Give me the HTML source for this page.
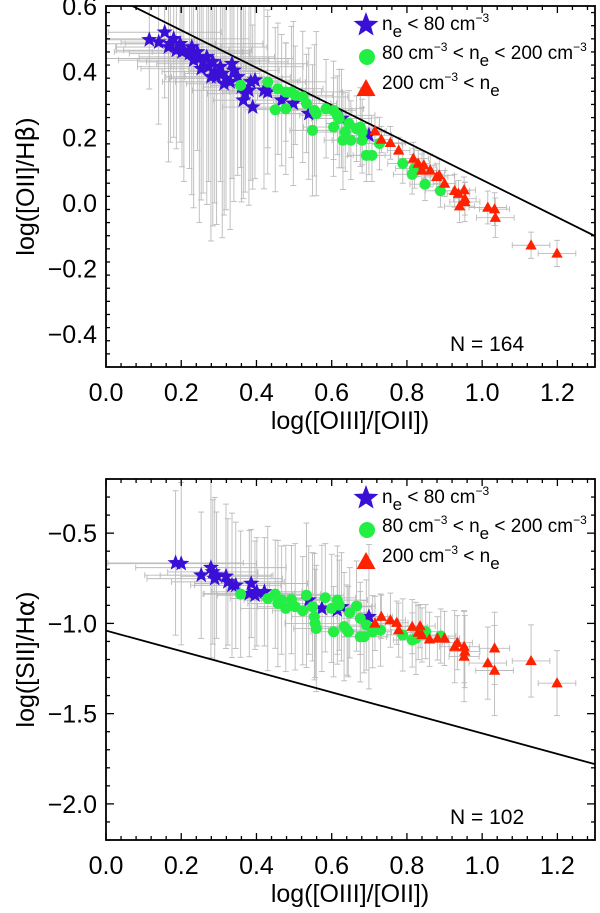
<!DOCTYPE html>
<html><head><meta charset="utf-8"><style>
html,body{margin:0;padding:0;background:#fff;}
svg{display:block;font-family:"Liberation Sans",Arial,sans-serif;}
</style></head><body>
<svg id="fig" width="600" height="913" viewBox="0 0 600 913" xmlns="http://www.w3.org/2000/svg"></svg>
<script>
// ---- Top panel data: log([OIII]/[OII]) vs log([OII]/Hb)
const topBlueX=[0.115,0.156,0.14,0.18,0.166,0.197,0.207,0.222,0.228,0.243,0.248,0.258,0.268,0.273,0.284,0.289,0.294,0.304,0.309,0.319,0.33,0.335,0.34,0.35,0.36,0.365,0.38,0.385,0.39,0.396,0.42,0.43,0.467,0.498,0.539,0.626,0.699,0.187,0.233,0.253,0.279,0.314,0.202,0.171,0.37];
const topBlueY=[0.497,0.52,0.49,0.50,0.475,0.485,0.465,0.455,0.475,0.46,0.44,0.43,0.445,0.415,0.43,0.40,0.384,0.415,0.394,0.379,0.369,0.424,0.404,0.384,0.353,0.313,0.343,0.369,0.292,0.374,0.343,0.338,0.313,0.303,0.272,0.257,0.206,0.465,0.435,0.409,0.384,0.363,0.46,0.485,0.333];
const topBlueXe=[0.12,0.15,0.1,0.2,0.14,0.22,0.18,0.16,0.2,0.12,0.25,0.15,0.18,0.1,0.2,0.14,0.12,0.22,0.1,0.15,0.18,0.2,0.12,0.14,0.1,0.08,0.15,0.2,0.08,0.12,0.1,0.12,0.1,0.1,0.08,0.08,0.06,0.14,0.2,0.16,0.12,0.1,0.18,0.12,0.1];
const topBlueYe=[0.15,0.2,0.25,0.3,0.35,0.3,0.4,0.35,0.45,0.3,0.5,0.4,0.45,0.35,0.5,0.4,0.45,0.35,0.5,0.4,0.45,0.35,0.4,0.3,0.35,0.3,0.35,0.3,0.25,0.3,0.3,0.25,0.2,0.25,0.2,0.15,0.12,0.3,0.45,0.4,0.5,0.4,0.35,0.3,0.3];
const topGreenX=[0.358,0.43,0.45,0.457,0.478,0.478,0.493,0.503,0.523,0.533,0.549,0.554,0.559,0.585,0.605,0.605,0.615,0.62,0.63,0.636,0.646,0.651,0.666,0.676,0.681,0.681,0.692,0.707,0.727,0.789,0.814,0.848,0.889,0.82];
const topGreenY=[0.358,0.368,0.284,0.348,0.287,0.338,0.338,0.328,0.323,0.303,0.221,0.282,0.272,0.287,0.282,0.231,0.267,0.257,0.191,0.216,0.242,0.191,0.226,0.231,0.216,0.191,0.145,0.145,0.181,0.12,0.087,0.057,0.037,0.105];
const topGreenXe=[0.08,0.1,0.08,0.12,0.1,0.15,0.08,0.1,0.12,0.08,0.06,0.1,0.08,0.1,0.06,0.08,0.1,0.06,0.05,0.08,0.06,0.05,0.06,0.05,0.06,0.05,0.05,0.05,0.06,0.04,0.05,0.04,0.04,0.05];
const topGreenYe=[0.25,0.2,0.25,0.2,0.2,0.15,0.2,0.15,0.2,0.15,0.2,0.2,0.25,0.15,0.15,0.15,0.12,0.15,0.15,0.12,0.1,0.12,0.1,0.12,0.1,0.1,0.08,0.08,0.08,0.06,0.06,0.05,0.05,0.06];
const topRedX=[0.715,0.732,0.756,0.778,0.817,0.83,0.84,0.845,0.862,0.879,0.886,0.9,0.927,0.937,0.94,0.952,0.954,0.954,1.015,1.033,1.035,1.13,1.199];
const topRedY=[0.219,0.193,0.183,0.16,0.135,0.12,0.099,0.115,0.099,0.079,0.084,0.059,0.037,0.028,-0.01,0.039,0.003,0.013,-0.014,-0.019,-0.045,-0.129,-0.154];
const topRedXe=[0.03,0.03,0.04,0.03,0.04,0.03,0.04,0.03,0.04,0.03,0.04,0.03,0.04,0.03,0.04,0.03,0.04,0.03,0.05,0.04,0.05,0.05,0.05];
const topRedYe=[0.04,0.04,0.05,0.04,0.05,0.04,0.05,0.04,0.05,0.04,0.05,0.04,0.05,0.04,0.05,0.04,0.06,0.05,0.05,0.05,0.06,0.04,0.04];
// ---- Bottom panel data: log([OIII]/[OII]) vs log([SII]/Ha)
const botBlueX=[0.185,0.2,0.253,0.279,0.284,0.289,0.294,0.319,0.324,0.335,0.345,0.386,0.381,0.396,0.401,0.421,0.539,0.574,0.615,0.626,0.699];
const botBlueY=[-0.665,-0.669,-0.733,-0.691,-0.715,-0.752,-0.733,-0.739,-0.77,-0.789,-0.789,-0.779,-0.835,-0.844,-0.825,-0.825,-0.871,-0.917,-0.926,-0.908,-0.963];
const botBlueXe=[0.18,0.2,0.15,0.2,0.12,0.18,0.15,0.12,0.15,0.1,0.12,0.15,0.12,0.1,0.12,0.1,0.08,0.08,0.06,0.08,0.05];
const botBlueYe=[0.4,0.45,0.35,0.5,0.4,0.45,0.35,0.4,0.35,0.4,0.35,0.3,0.35,0.3,0.3,0.3,0.3,0.35,0.3,0.3,0.4];
const botGreenX=[0.358,0.43,0.45,0.457,0.467,0.478,0.493,0.503,0.523,0.533,0.549,0.554,0.556,0.559,0.583,0.6,0.605,0.615,0.62,0.633,0.641,0.648,0.666,0.676,0.676,0.686,0.692,0.709,0.73,0.789,0.814,0.824,0.85,0.89,0.644];
const botGreenY=[-0.838,-0.862,-0.838,-0.89,-0.871,-0.917,-0.868,-0.908,-0.93,-0.844,-0.908,-0.963,-1.0,-1.028,-0.858,-0.917,-1.046,-0.871,-0.899,-1.018,-1.037,-0.941,-0.904,-0.972,-1.074,-1.074,-1.009,-1.046,-1.037,-1.064,-1.092,-1.083,-1.046,-1.07,-1.046];
const botGreenXe=[0.1,0.1,0.12,0.08,0.1,0.12,0.08,0.1,0.08,0.1,0.08,0.06,0.08,0.06,0.08,0.06,0.06,0.08,0.06,0.06,0.05,0.06,0.05,0.05,0.05,0.06,0.05,0.05,0.05,0.04,0.05,0.04,0.04,0.04,0.05];
const botGreenYe=[0.35,0.4,0.3,0.35,0.3,0.35,0.3,0.35,0.3,0.4,0.3,0.35,0.3,0.35,0.3,0.3,0.25,0.3,0.25,0.3,0.25,0.25,0.25,0.2,0.25,0.2,0.25,0.2,0.2,0.2,0.15,0.2,0.15,0.15,0.25];
const botRedX=[0.715,0.732,0.756,0.773,0.778,0.814,0.83,0.835,0.84,0.86,0.881,0.9,0.927,0.934,0.952,0.952,0.954,1.015,1.033,1.033,1.13,1.199];
const botRedY=[-1.0,-0.963,-0.982,-0.996,-1.037,-1.018,-1.051,-1.015,-1.064,-1.088,-1.083,-1.083,-1.129,-1.107,-1.129,-1.184,-1.156,-1.22,-1.138,-1.261,-1.208,-1.331];
const botRedXe=[0.04,0.03,0.04,0.03,0.04,0.04,0.03,0.04,0.04,0.04,0.03,0.04,0.04,0.04,0.04,0.04,0.04,0.05,0.04,0.05,0.05,0.05];
const botRedYe=[0.15,0.12,0.15,0.12,0.15,0.15,0.15,0.12,0.15,0.15,0.12,0.15,0.2,0.15,0.2,0.25,0.2,0.2,0.2,0.25,0.2,0.18];
// reference lines: [x0,y0,x1,y1]
const topLine=[0.0,0.64,1.3,-0.101];
const botLine=[0.0,-1.04,1.3,-1.78];
const xTicks=[0.0,0.2,0.4,0.6,0.8,1.0,1.2];
const topYTicks=[-0.4,-0.2,0.0,0.2,0.4,0.6];
const botYTicks=[-2.0,-1.5,-1.0,-0.5];

const NS="http://www.w3.org/2000/svg";
const svg=document.getElementById('fig');
function mk(tag,attrs,parent){const e=document.createElementNS(NS,tag);for(const k in attrs)e.setAttribute(k,attrs[k]);(parent||svg).appendChild(e);return e;}
function fmt(v){const s=Math.abs(v).toFixed(1);return (v<-1e-9?'\u2212':'')+s;}

function panel(P){
  const L=106,R=595,T=P.top,B=P.bottom;
  const sx=v=>L+(v-0)/(1.3)*(R-L);
  const sy=v=>B-(v-P.ymin)/(P.ymax-P.ymin)*(B-T);
  const g=mk('g',{});
  
  
  const cid='clip'+P.name;
  const cp=mk('clipPath',{id:cid},g);mk('rect',{x:L,y:T,width:R-L,height:B-T},cp);
  const plot=mk('g',{'clip-path':'url(#'+cid+')'},g);
  const eb=mk('g',{stroke:'#aaaaaa','stroke-width':0.9,opacity:0.8},plot);
  
  
  P.series.forEach(s=>{
    s.x.forEach((xv,i)=>{
      const yv=s.y[i],xe=s.xe[i],ye=s.ye[i];
      mk('line',{x1:sx(xv-xe),x2:sx(xv+xe),y1:sy(yv),y2:sy(yv)},eb);
      mk('line',{x1:sx(xv),x2:sx(xv),y1:sy(yv-ye),y2:sy(yv+ye)},eb);
      mk('line',{x1:sx(xv)-3,x2:sx(xv)+3,y1:sy(yv-ye),y2:sy(yv-ye)},eb);
      mk('line',{x1:sx(xv)-3,x2:sx(xv)+3,y1:sy(yv+ye),y2:sy(yv+ye)},eb);
      mk('line',{x1:sx(xv-xe),x2:sx(xv-xe),y1:sy(yv)-3,y2:sy(yv)+3},eb);
      mk('line',{x1:sx(xv+xe),x2:sx(xv+xe),y1:sy(yv)-3,y2:sy(yv)+3},eb);
    });
  });
  const ln=mk('line',{x1:sx(P.line[0]),y1:sy(P.line[1]),x2:sx(P.line[2]),y2:sy(P.line[3]),stroke:'#000','stroke-width':1.8},plot);
  
  
  P.series.forEach(s=>{
    const sg=mk('g',{fill:s.color},plot);
    
    
    s.x.forEach((xv,i)=>{marker(s.shape,sx(xv),sy(s.y[i]),s.size,sg);});
  });
  const fr=mk('rect',{x:L,y:T,width:R-L,height:B-T,fill:'none',stroke:'#000','stroke-width':1.8},g);
  
  
  const tk=mk('g',{stroke:'#000','stroke-width':1.3},g);
  for(let v=0;v<=1.3001;v+=0.04){const maj=Math.abs(v/0.2-Math.round(v/0.2))<1e-6;const len=maj?7:4;
    mk('line',{x1:sx(v),x2:sx(v),y1:B,y2:B-len},tk);mk('line',{x1:sx(v),x2:sx(v),y1:T,y2:T+len},tk);}
  for(let v=P.ymin;v<=P.ymax+1e-6;v+=P.minor){const maj=Math.abs(v/P.major-Math.round(v/P.major))<1e-6;const len=maj?8:4;
    mk('line',{x1:L,x2:L+len,y1:sy(v),y2:sy(v)},tk);mk('line',{x1:R,x2:R-len,y1:sy(v),y2:sy(v)},tk);}
  xTicks.forEach(v=>{const t=mk('text',{x:sx(v),y:B+34,'font-size':25,'text-anchor':'middle'},g);t.textContent=fmt(v);
    
    });
  P.yticks.forEach(v=>{const t=mk('text',{x:L-9,y:sy(v)+9,'font-size':25,'text-anchor':'end'},g);t.textContent=fmt(v);
    
    });
  const xt=mk('text',{x:350,y:B+62,'font-size':25,'text-anchor':'middle'},g);xt.textContent='log([OIII]/[OII])';
  
  
  const yt=mk('text',{x:0,y:0,'font-size':25,'text-anchor':'middle',transform:'translate(34,'+((T+B)/2)+') rotate(-90)'},g);
  yt.innerHTML=P.ytitle;
  
  
  const nt=mk('text',{x:450,y:B-16,'font-size':21},g);nt.textContent=P.ntext;
  
  
  const lg=mk('g',{},g);
  
  
  const ly=T+19;
  const e1=mk('g',{},lg);
  marker('star',366,ly,13,mk('g',{fill:'#3a0fd6'},e1));
  mk('text',{x:382,y:ly+5,'font-size':19},e1).innerHTML='n<tspan dy="7" font-size="17">e</tspan><tspan dy="-7"> &lt;  80 cm</tspan><tspan dy="-8" font-size="12">−3</tspan>';
  const e2=mk('g',{},lg);
  marker('circle',367,ly+32,8,mk('g',{fill:'#22ee44'},e2));
  mk('text',{x:382,y:ly+34,'font-size':19},e2).innerHTML='80 cm<tspan dy="-8" font-size="12">−3</tspan><tspan dy="8"> &lt; n</tspan><tspan dy="7" font-size="17">e</tspan><tspan dy="-7"> &lt;  200 cm</tspan><tspan dy="-8" font-size="12">−3</tspan>';
  const e3=mk('g',{},lg);
  marker('tri',366,ly+64,10,mk('g',{fill:'#ff2200'},e3));
  mk('text',{x:382,y:ly+64,'font-size':19},e3).innerHTML='200 cm<tspan dy="-8" font-size="12">−3</tspan><tspan dy="8"> &lt; n</tspan><tspan dy="7" font-size="17">e</tspan>';
}
function marker(shape,x,y,r,parent){
  if(shape==='star'){let p=[];for(let k=0;k<10;k++){const a=-Math.PI/2+k*Math.PI/5;const rr=k%2?r*0.42:r;p.push((x+rr*Math.cos(a)).toFixed(1)+','+(y+rr*Math.sin(a)).toFixed(1));}
    mk('polygon',{points:p.join(' ')},parent);}
  else if(shape==='circle'){mk('circle',{cx:x,cy:y,r:r},parent);}
  else {mk('polygon',{points:`${x},${y-r} ${x+r*0.95},${y+r*0.7} ${x-r*0.95},${y+r*0.7}`},parent);}
}
panel({name:'top-panel',top:6,bottom:367,ymin:-0.5,ymax:0.6,major:0.2,minor:0.04,yticks:topYTicks,line:topLine,
  ytitle:'log([OII]/H<tspan font-family="DejaVu Sans">β</tspan>)',ntext:'N = 164',
  series:[{name:'series-low-density',shape:'star',size:8.5,color:'#3a0fd6',x:topBlueX,y:topBlueY,xe:topBlueXe,ye:topBlueYe},
          {name:'series-mid-density',shape:'circle',size:5.5,color:'#22ee44',x:topGreenX,y:topGreenY,xe:topGreenXe,ye:topGreenYe},
          {name:'series-high-density',shape:'tri',size:6,color:'#ff2200',x:topRedX,y:topRedY,xe:topRedXe,ye:topRedYe}]});
panel({name:'bottom-panel',top:479,bottom:840,ymin:-2.2,ymax:-0.2,major:0.5,minor:0.1,yticks:botYTicks,line:botLine,
  ytitle:'log([SII]/H<tspan font-family="DejaVu Sans">α</tspan>)',ntext:'N = 102',
  series:[{name:'series-low-density',shape:'star',size:8.5,color:'#3a0fd6',x:botBlueX,y:botBlueY,xe:botBlueXe,ye:botBlueYe},
          {name:'series-mid-density',shape:'circle',size:5.5,color:'#22ee44',x:botGreenX,y:botGreenY,xe:botGreenXe,ye:botGreenYe},
          {name:'series-high-density',shape:'tri',size:6,color:'#ff2200',x:botRedX,y:botRedY,xe:botRedXe,ye:botRedYe}]});
</script>
</body></html>
